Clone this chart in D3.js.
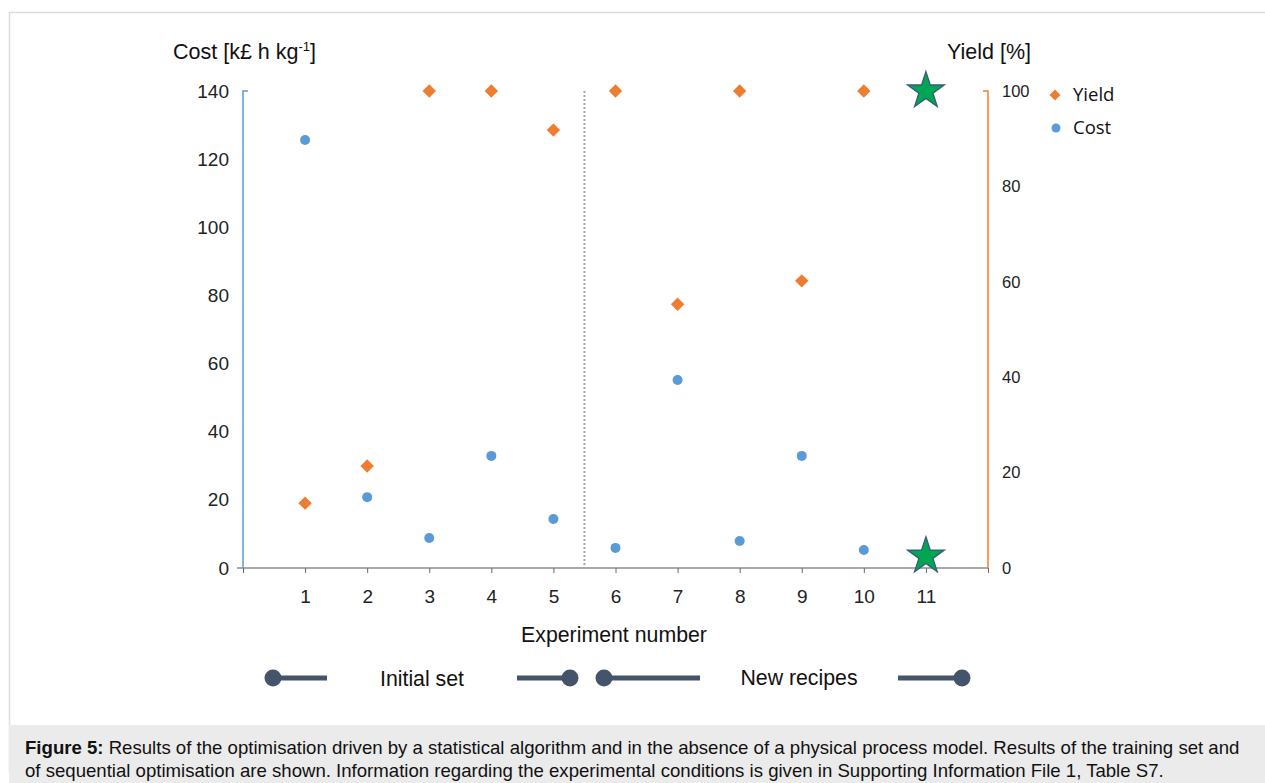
<!DOCTYPE html>
<html><head><meta charset="utf-8">
<script src="https://cdn.jsdelivr.net/npm/d3@7"></script>
<style>body{margin:0;background:#fff;}svg{display:block;font-family:Arial,"Liberation Sans",sans-serif;}</style>
</head><body>
<svg id="c" width="1265" height="783"></svg>
<script>
const experiments = [1,2,3,4,5,6,7,8,9,10,11];
const costValues = [125.6, 20.8, 8.8, 32.9, 14.4, 5.9, 55.2, 7.9, 32.9, 5.3, null];
const yieldValues = [13.6, 21.4, 100, 100, 91.8, 100, 55.3, 100, 60.2, 100, null];
const bestExperiment = 11, bestCost = 3.5, bestYield = 100;
const costTicks = [0,20,40,60,80,100,120,140];
const yieldTicks = [0,20,40,60,80,100];
const dividerAt = 5.5;
const captionLines = [
  ["Figure 5:", " Results of the optimisation driven by a statistical algorithm and in the absence of a physical process model. Results of the training set and"],
  ["", "of sequential optimisation are shown. Information regarding the experimental conditions is given in Supporting Information File 1, Table S7."]
];

const svg = d3.select("#c");
const L = 243, R = 988, T = 91, B = 568;
const x = d3.scaleLinear().domain([0,12]).range([L,R]);
const yC = d3.scaleLinear().domain([0,140]).range([B,T]);
const yY = d3.scaleLinear().domain([0,100]).range([B,T]);

// frame
svg.append("rect").attr("x",9.5).attr("y",12.5).attr("width",1270).attr("height",760).attr("fill","#fff").attr("stroke","#dcdcdc").attr("stroke-width",1.5);
svg.append("rect").attr("x",9).attr("y",725).attr("width",1256).attr("height",58).attr("fill","#ebebeb");

// x axis
const xa = svg.append("g").attr("transform",`translate(0,${B})`)
  .call(d3.axisBottom(x).tickValues(d3.range(0,13)).tickSize(6).tickFormat(d => (d>=1&&d<=11)?d:""));
xa.select(".domain").attr("stroke","#8c8c8c").attr("stroke-width",1.5).attr("d",`M${L-6},0H${R}`);
xa.selectAll(".tick line").attr("stroke","#6b6b6b").attr("y1",0).attr("y2",5);
xa.selectAll(".tick text").attr("font-size",19).attr("fill","#222").attr("y",22).attr("font-family","Arial");

// left axis
const ya = svg.append("g").attr("transform",`translate(${L},0)`)
  .call(d3.axisLeft(yC).tickValues(costTicks).tickSize(0).tickPadding(14));
ya.select(".domain").attr("stroke","#5b9bd5").attr("stroke-width",1.5).attr("d",`M5,${T}H0V${B}`);
ya.selectAll(".tick text").attr("font-size",19).attr("fill","#222").attr("font-family","Arial");

// right axis
const yr = svg.append("g").attr("transform",`translate(${R},0)`)
  .call(d3.axisRight(yY).tickValues(yieldTicks).tickSize(0).tickPadding(14));
yr.select(".domain").attr("stroke","#ed7d31").attr("stroke-width",1.5).attr("d",`M-5,${T}H0V${B}`);
yr.selectAll(".tick text").attr("font-size",16.5).attr("fill","#222").attr("font-family","Arial");

// divider
svg.append("line").attr("x1",x(dividerAt)).attr("x2",x(dividerAt)).attr("y1",T).attr("y2",B)
  .attr("stroke","#a6a6a6").attr("stroke-width",2).attr("stroke-dasharray","2,2");

// titles
const ct = svg.append("text").attr("x",173).attr("y",59).attr("font-size",21.5).attr("fill","#111");
ct.append("tspan").text("Cost [k£ h kg");
ct.append("tspan").attr("font-size",13).attr("dy",-8).text("-1");
ct.append("tspan").attr("dy",8).text("]");
svg.append("text").attr("x",989).attr("y",59).attr("text-anchor","middle").attr("font-size",21.5).attr("fill","#111").text("Yield [%]");
svg.append("text").attr("x",614).attr("y",642).attr("text-anchor","middle").attr("font-size",21.3).attr("fill","#111").text("Experiment number");

// points
const diamond = d3.symbol().type(d3.symbolSquare).size(90)();
svg.append("g").selectAll("path").data(experiments.map((e,i)=>({e,v:yieldValues[i]})).filter(d=>d.v!=null))
  .join("path").attr("d",diamond).attr("fill","#ed7d31")
  .attr("transform",d=>`translate(${x(d.e)},${yY(d.v)}) rotate(45)`);
svg.append("g").selectAll("circle").data(experiments.map((e,i)=>({e,v:costValues[i]})).filter(d=>d.v!=null))
  .join("circle").attr("cx",d=>x(d.e)).attr("cy",d=>yC(d.v)).attr("r",5).attr("fill","#5b9bd5");

// stars
const star = d3.symbol().type(d3.symbolStar).size(420)();
[[bestExperiment, yY(bestYield)],[bestExperiment, yC(bestCost)]].forEach(([e,py])=>{
  svg.append("path").attr("d",star).attr("transform",`translate(${x(e)},${py})`)
    .attr("fill","#00a651").attr("stroke","#3a5a78").attr("stroke-width",1.3);
});

// right legend
const lg = svg.append("g").attr("font-family","'Open Sans',sans-serif").attr("font-size",18.5).attr("fill","#111");
lg.append("path").attr("d",d3.symbol().type(d3.symbolSquare).size(60)()).attr("transform","translate(1055,95) rotate(45)").attr("fill","#ed7d31");
lg.append("text").attr("x",1073).attr("y",101).text("Yield");
lg.append("circle").attr("cx",1056).attr("cy",128).attr("r",4.5).attr("fill","#5b9bd5");
lg.append("text").attr("x",1073).attr("y",134).text("Cost");

// bottom legend bars
const bars = [
  {x1:273,x2:327,dot:273},{x1:517,x2:570,dot:570},{x1:604,x2:700,dot:604},{x1:898,x2:962,dot:962}
];
const bl = svg.append("g");
bars.forEach(b=>{
  bl.append("line").attr("x1",b.x1).attr("x2",b.x2).attr("y1",678).attr("y2",678).attr("stroke","#44546a").attr("stroke-width",5);
  bl.append("circle").attr("cx",b.dot).attr("cy",678).attr("r",8.5).attr("fill","#44546a");
});
svg.append("text").attr("x",422).attr("y",686).attr("text-anchor","middle").attr("font-size",21.3).attr("fill","#111").text("Initial set");
svg.append("text").attr("x",799).attr("y",685).attr("text-anchor","middle").attr("font-size",21.3).attr("fill","#111").text("New recipes");

// caption
captionLines.forEach((ln,i)=>{
  const t = svg.append("text").attr("x",25).attr("y",754+i*23).attr("font-size",18.6).attr("fill","#111");
  if(ln[0]) t.append("tspan").attr("font-weight","bold").text(ln[0]);
  t.append("tspan").text(ln[1]);
});
</script>
</body></html>
